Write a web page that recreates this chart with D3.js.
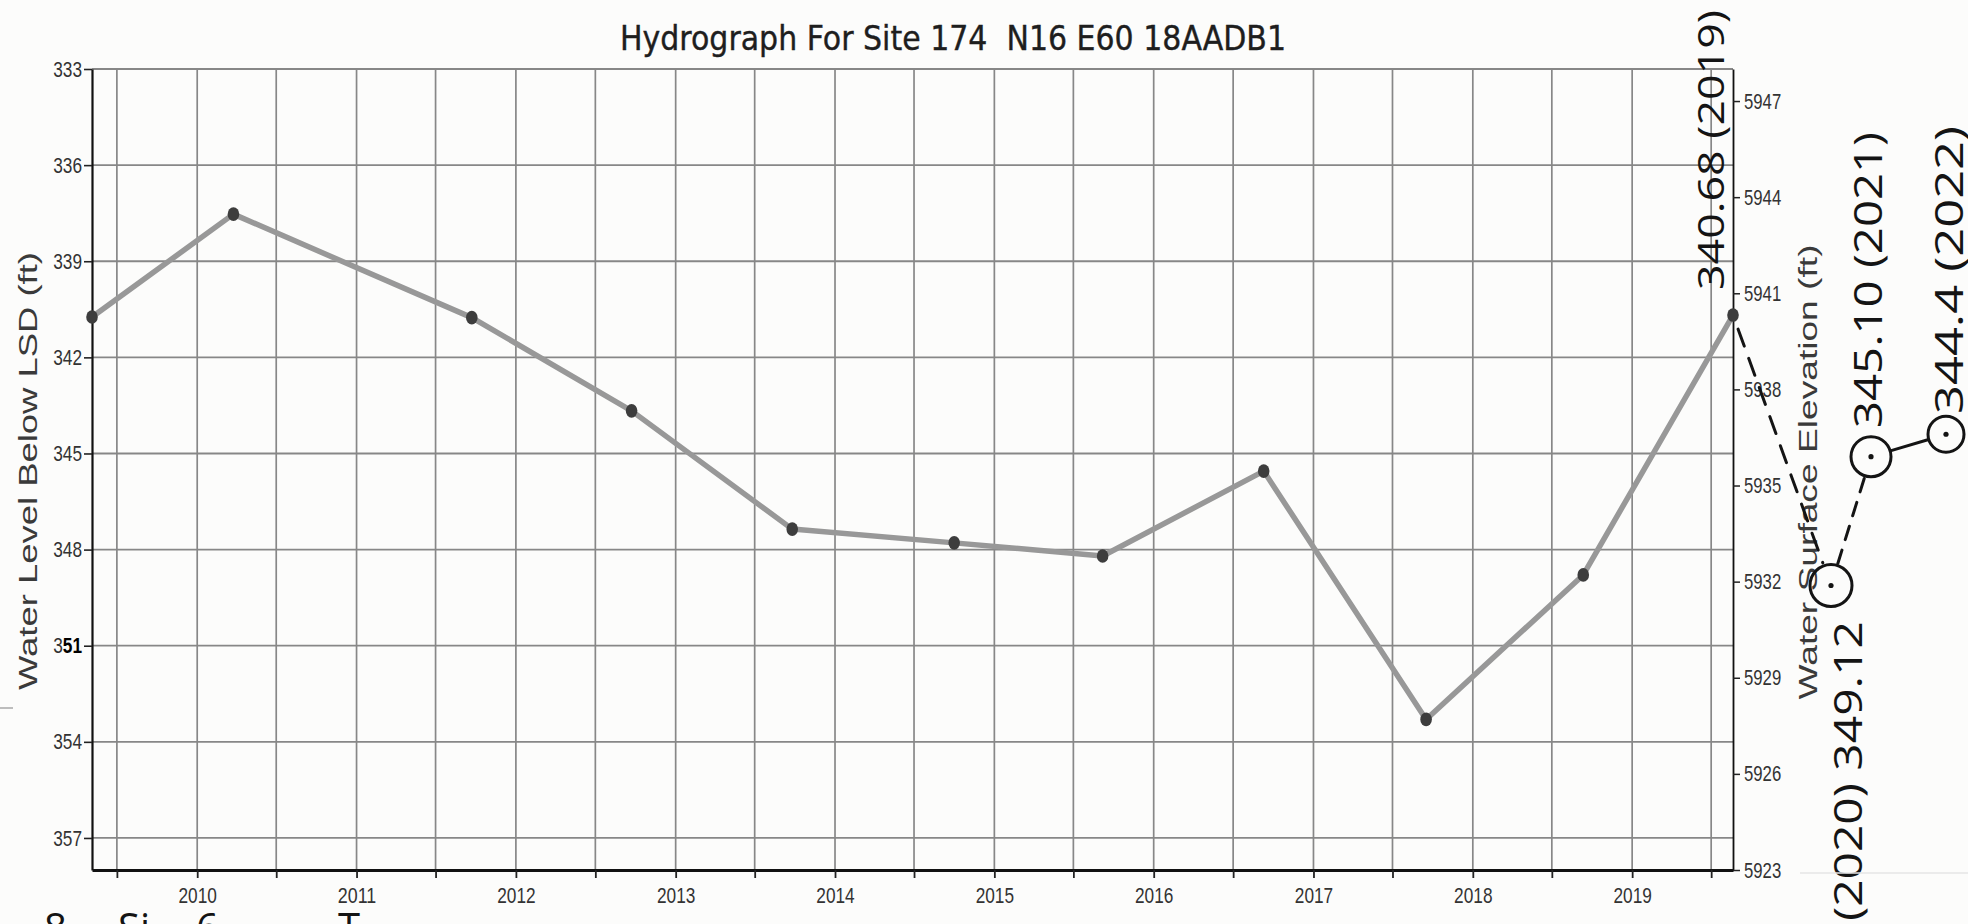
<!DOCTYPE html>
<html>
<head>
<meta charset="utf-8">
<script src="https://cdn.jsdelivr.net/npm/d3@7"></script>
<style>
  html, body { margin: 0; padding: 0; background: #fcfcfb; overflow: hidden; }
  svg { display: block; }
</style>
</head>
<body>
<svg id="chart"></svg>
<script>
const sampleDates = ["2009-05-05", "2010-03-25", "2011-09-22", "2012-09-22", "2013-09-25",
                     "2014-10-01", "2015-09-06", "2016-09-09", "2017-09-16", "2018-09-11", "2019-08-20"];
// depth to water below land surface (ft)
const depthFt = [340.74, 337.53, 340.76, 343.67, 347.36, 347.79, 348.2, 345.55, 353.3, 348.79, 340.68];

const depthTicks = [333, 336, 339, 342, 345, 348, 351, 354, 357];
const elevTicks = [5923, 5926, 5929, 5932, 5935, 5938, 5941, 5944, 5947];
const yearLabels = ["2010", "2011", "2012", "2013", "2014", "2015", "2016", "2017", "2018", "2019"];
const landSurface = 6281; // elevation = landSurface - depth

// readings pencilled in beside the printout
const noteYears = [2020, 2021, 2022];
const noteDepths = [349.12, 345.10, 344.4];
const noteLabels = ["(2020) 349.12", "345.10 (2021)", "344.4 (2022)"];
const note2019 = "340.68 (2019)";

const title = "Hydrograph For Site 174  N16 E60 18AADB1";

const W = 1968, H = 924;
const margin = {top: 69, right: 235, bottom: 54, left: 92};

const parse = d3.utcParse("%Y-%m-%d");
const data = sampleDates.map((d, i) => ({date: parse(d), depth: depthFt[i]}));

const x = d3.scaleUtc(d3.extent(data, d => d.date), [margin.left, W - margin.right]);
const y = d3.scaleLinear([333, 358], [margin.top, H - margin.bottom]);
const yElev = d3.scaleLinear([landSurface - 333, landSurface - 358], [margin.top, H - margin.bottom]);

// half-year grid, labels only on January
const halfYears = d3.utcMonth.every(6).range(d3.utcYear.floor(x.domain()[0]), x.domain()[1])
  .filter(d => d >= x.domain()[0]);

const svg = d3.select("#chart").attr("width", W).attr("height", H);

svg.append("rect").attr("width", W).attr("height", H).attr("fill", "#fcfcfb");

const gridColor = "#878787";

svg.append("g")
  .selectAll("line")
  .data(depthTicks)
  .join("line")
    .attr("x1", margin.left).attr("x2", W - margin.right)
    .attr("y1", d => y(d)).attr("y2", d => y(d))
    .attr("stroke", gridColor).attr("stroke-width", 1.8);

svg.append("g")
  .selectAll("line")
  .data(halfYears)
  .join("line")
    .attr("x1", d => x(d)).attr("x2", d => x(d))
    .attr("y1", margin.top).attr("y2", H - margin.bottom)
    .attr("stroke", gridColor).attr("stroke-width", 1.7);

function narrowLabels(g, digitW) {
  g.selectAll(".tick text").each(function() {
    const s = this.textContent;
    if (s) d3.select(this).attr("textLength", s.length * digitW).attr("lengthAdjust", "spacingAndGlyphs");
  });
}

const tickFont = "'Liberation Sans', Arial, sans-serif";
const tickSize = 22;

// left axis
svg.append("g")
  .attr("transform", `translate(${margin.left},0)`)
  .call(d3.axisLeft(y).tickValues(depthTicks).tickSize(8).tickPadding(2).tickSizeOuter(0))
  .call(g => g.select(".domain").attr("stroke", "#111").attr("stroke-width", 2.2))
  .call(g => g.selectAll(".tick line").attr("stroke", "#222").attr("stroke-width", 1.6))
  .call(g => g.selectAll(".tick text").attr("font-family", tickFont).attr("font-size", tickSize).attr("fill", "#333"))
  .call(g => narrowLabels(g, 9.6))
  .call(g => g.selectAll(".tick text").filter(d => d === 351)
      .text(null)
      .call(t => t.append("tspan").text("3"))
      .call(t => t.append("tspan").attr("font-weight", "bold").attr("fill", "#000").text("51")));

// right axis
svg.append("g")
  .attr("transform", `translate(${W - margin.right},0)`)
  .call(d3.axisRight(yElev).tickValues(elevTicks).tickFormat(d3.format("d"))
    .tickSize(7).tickPadding(4).tickSizeOuter(0))
  .call(g => g.select(".domain").attr("stroke", "#111").attr("stroke-width", 1.8))
  .call(g => g.selectAll(".tick line").attr("stroke", "#222").attr("stroke-width", 1.5))
  .call(g => g.selectAll(".tick text").attr("font-family", tickFont).attr("font-size", tickSize).attr("fill", "#333"))
  .call(g => narrowLabels(g, 9.3));

// bottom axis
const yearOf = d3.utcFormat("%Y");
svg.append("g")
  .attr("transform", `translate(0,${H - margin.bottom})`)
  .call(d3.axisBottom(x).tickValues(halfYears)
    .tickFormat(d => d.getUTCMonth() === 0 && yearLabels.includes(yearOf(d)) ? yearOf(d) : "")
    .tickSize(8).tickPadding(9).tickSizeOuter(0))
  .call(g => g.select(".domain").attr("stroke", "#111").attr("stroke-width", 3.2))
  .call(g => g.selectAll(".tick line").attr("stroke", "#222").attr("stroke-width", 1.8))
  .call(g => g.selectAll(".tick text").attr("font-family", tickFont).attr("font-size", tickSize).attr("fill", "#333"))
  .call(g => narrowLabels(g, 9.6));

// the hydrograph line
const line = d3.line().x(d => x(d.date)).y(d => y(d.depth));
svg.append("path")
  .datum(data)
  .attr("d", line)
  .attr("fill", "none")
  .attr("stroke", "#989898")
  .attr("stroke-width", 5.5)
  .attr("stroke-linejoin", "round");

svg.append("g")
  .selectAll("ellipse")
  .data(data)
  .join("ellipse")
    .attr("cx", d => x(d.date))
    .attr("cy", d => y(d.depth))
    .attr("rx", 5.8).attr("ry", 6.8)
    .attr("fill", "#3d3d3d");

// title
svg.append("text")
  .attr("x", 620).attr("y", 50)
  .style("white-space", "pre")
  .attr("font-family", "'DejaVu Sans', Verdana, sans-serif")
  .attr("font-size", 33)
  .attr("fill", "#1e1e1e")
  .attr("stroke", "#1e1e1e").attr("stroke-width", 0.4)
  .attr("textLength", 666).attr("lengthAdjust", "spacingAndGlyphs")
  .text(title);

// axis titles
svg.append("text")
  .attr("transform", "translate(37,471) rotate(-90)")
  .attr("text-anchor", "middle")
  .attr("font-family", tickFont).attr("font-size", 26).attr("fill", "#3a3a3a")
  .attr("textLength", 438).attr("lengthAdjust", "spacingAndGlyphs")
  .text("Water Level Below LSD (ft)");

svg.append("text")
  .attr("transform", "translate(1817,472) rotate(-90)")
  .attr("text-anchor", "middle")
  .attr("font-family", tickFont).attr("font-size", 25).attr("fill", "#3a3a3a")
  .attr("textLength", 455).attr("lengthAdjust", "spacingAndGlyphs")
  .text("Water Surface Elevation (ft)");

// handwritten notes
const ink = "#141414";
const hand = "'Open Sans', 'Noto Sans', sans-serif";
const last = data[data.length - 1];
const lastPt = [x(last.date), y(last.depth)];

const noteX = [1831, 1871, 1946];   // where the circles were pencilled
const noteR = [21, 20, 18];
const notes = noteYears.map((yr, i) => ({year: yr, depth: noteDepths[i], label: noteLabels[i],
                                         cx: noteX[i], cy: y(noteDepths[i]), r: noteR[i]}));

const ann = svg.append("g").attr("fill", "none").attr("stroke", ink).attr("stroke-width", 3)
  .attr("stroke-linecap", "round");

function seg(a, b, ra, rb) {
  const dx = b[0] - a[0], dy = b[1] - a[1], len = Math.hypot(dx, dy);
  return [[a[0] + dx * ra / len, a[1] + dy * ra / len], [b[0] - dx * rb / len, b[1] - dy * rb / len]];
}

const c0 = [notes[0].cx, notes[0].cy], c1 = [notes[1].cx, notes[1].cy], c2 = [notes[2].cx, notes[2].cy];
const links = [
  {p: seg(lastPt, c0, 15, notes[0].r + 3), dash: "18 13"},
  {p: seg(c0, c1, notes[0].r + 2, notes[1].r + 2), dash: "14 11"},
  {p: seg(c1, c2, notes[1].r + 1, notes[2].r + 1), dash: null}
];
ann.selectAll("line")
  .data(links)
  .join("line")
    .attr("x1", d => d.p[0][0]).attr("y1", d => d.p[0][1])
    .attr("x2", d => d.p[1][0]).attr("y2", d => d.p[1][1])
    .attr("stroke-dasharray", d => d.dash);

ann.selectAll("circle.ring")
  .data(notes)
  .join("circle")
    .attr("class", "ring")
    .attr("cx", d => d.cx).attr("cy", d => d.cy).attr("r", d => d.r);

svg.append("g").selectAll("circle")
  .data(notes)
  .join("circle")
    .attr("cx", d => d.cx).attr("cy", d => d.cy).attr("r", 2.6)
    .attr("fill", ink);

const noteText = [
  {label: note2019, tx: 1724, ty: 290, len: 280, size: 37},
  {label: notes[0].label, tx: 1862, ty: 921, len: 300, size: 39},
  {label: notes[1].label, tx: 1882, ty: 428, len: 296, size: 39},
  {label: notes[2].label, tx: 1963, ty: 414, len: 288, size: 39}
];
svg.append("g").selectAll("text")
  .data(noteText)
  .join("text")
    .attr("transform", d => `translate(${d.tx},${d.ty}) rotate(-90)`)
    .attr("font-family", hand).attr("font-size", d => d.size)
    .attr("fill", ink)
    .attr("textLength", d => d.len).attr("lengthAdjust", "spacingAndGlyphs")
    .text(d => d.label);

// scraps of handwriting cut off by the bottom edge of the scan
const scraps = [["8", 44], ["Si", 118], ["6", 196], ["T", 338]];
svg.append("g").selectAll("text")
  .data(scraps)
  .join("text")
    .attr("x", d => d[1]).attr("y", 942)
    .attr("font-family", hand).attr("font-size", 40).attr("fill", ink)
    .text(d => d[0]);

// scan marks
svg.append("line").attr("x1", 0).attr("x2", 13).attr("y1", 708).attr("y2", 708)
  .attr("stroke", "#bdbdbd").attr("stroke-width", 2);
svg.append("line").attr("x1", 1800).attr("x2", W).attr("y1", 873).attr("y2", 873)
  .attr("stroke", "#e6e6e6").attr("stroke-width", 1.5);
</script>
</body>
</html>
